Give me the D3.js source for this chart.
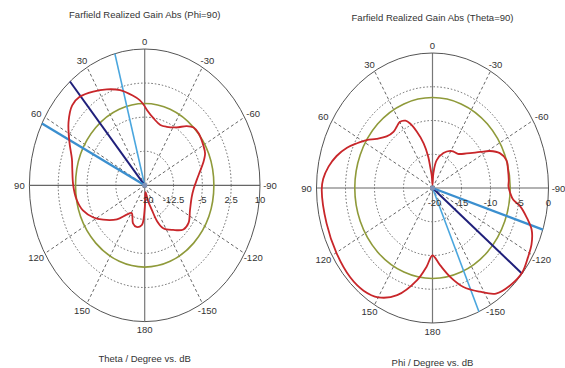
<!DOCTYPE html>
<html>
<head>
<meta charset="utf-8">
<script src="https://cdn.jsdelivr.net/npm/d3@7"></script>
<style>
  html, body { margin: 0; padding: 0; background: #fff; }
  svg { display: block; font-family: "Liberation Sans", Arial, sans-serif; }
</style>
</head>
<body>
<div id="chart"></div>
<script>
// Phi=90 cut: theta (deg) vs realized gain (dB)
const thetaDeg = [-179, -172, -166, -161, -158, -153, -143, -134, -126, -115, -102, -93, -85, -78, -72, -66, -60, -51, -45, -40,
  -33, -24, -17, -9, -2, 1, 4, 9, 17, 25, 33, 41, 47, 55, 64, 73, 79, 90, 100, 109,
  118, 125, 136, 144, 151, 160, 167, 175, 177.5];
const gainTheta = [-15.7, -18.5, -16.5, -14.3, -11.6, -9.4, -7.7, -6.0, -5.9, -7.0, -7.5, -7.2, -6.4, -5.3, -4.0, -2.8, -2.4, -1.9, -2.0, -3.0,
  -4.8, -5.9, -6.1, -5.1, -3.4, -2.2, -1.2, 0.0, 1.9, 3.3, 4.6, 5.8, 5.8, 4.2, 1.8, -0.2, -0.8, -1.4, -2.0, -3.0,
  -4.9, -6.8, -9.6, -12.0, -13.0, -11.1, -10.6, -11.2, -12.3];

// Theta=90 cut: phi (deg) vs realized gain (dB)
const phiDeg = [-180, -173.5, -167, -160, -152, -145, -137, -129, -122, -116, -110, -105, -100, -97, -93, -89, -85, -78, -72, -66,
  -61, -57, -49, -41, -34, -29, -20, -10, -4, 0, 4, 7, 9, 13, 18, 22, 25, 30, 34, 39,
  46, 53, 58, 63, 68, 74, 80, 86, 91, 106, 120, 133, 142, 150, 159, 169, 175];
const gainPhi = [-10.0, -8.5, -6.5, -4.4, -2.6, -0.9, -0.3, -0.1, -0.6, -1.0, -1.8, -3.2, -4.7, -6.0, -6.6, -6.9, -6.8, -6.7, -6.6, -7.3,
  -8.7, -10.2, -12.2, -13.3, -13.5, -13.7, -14.5, -15.8, -17.8, -19.5, -18.2, -17.0, -15.3, -13.2, -11.2, -9.7, -9.0, -8.7, -9.0, -9.3,
  -9.0, -7.9, -6.6, -5.4, -4.1, -2.8, -1.8, -1.1, -0.9, -1.0, -0.85, -0.6, -0.7, -1.3, -3.0, -6.1, -8.3];

const angleTicks = [0, 30, 60, 90, 120, 150, 180, -150, -120, -90, -60, -30];
const ringsTheta = [-20, -12.5, -5, 2.5, 10];
const ringsPhi = [-20, -15, -10, -5, 0];

// -3 dB reference level and beam lines (main lobe, 3 dB edges)
const refLevel = [-2.0, -6.6];
const beamTheta = [15, 40.4, 63];
const beamPhi = [-156.4, -129.4, -108];

const W = 565, H = 368;
const svg = d3.select('#chart').append('svg')
  .attr('width', W).attr('height', H)
  .attr('viewBox', [0, 0, W, H]);

function drawPolar(cfg) {
  const g = svg.append('g');
  const dom = d3.extent(cfg.rings);
  const rX = d3.scaleLinear().domain(dom).range([0, cfg.rx]).clamp(true);
  const rY = d3.scaleLinear().domain(dom).range([0, cfg.ry]).clamp(true);
  const rad = d => d * Math.PI / 180;
  const px = (a, v) => cfg.cx - rX(v) * Math.sin(rad(a));
  const py = (a, v) => cfg.cy - rY(v) * Math.cos(rad(a));

  // dotted rings
  g.selectAll('.ring')
    .data(cfg.rings.slice(1, -1))
    .join('ellipse')
    .attr('cx', cfg.cx).attr('cy', cfg.cy)
    .attr('rx', d => rX(d)).attr('ry', d => rY(d))
    .attr('fill', 'none')
    .attr('stroke', '#555')
    .attr('stroke-width', 0.9)
    .attr('stroke-dasharray', '1.5,2');

  // dashed spokes
  g.selectAll('.spoke')
    .data(angleTicks.filter(a => a % 90 !== 0))
    .join('line')
    .attr('x1', cfg.cx).attr('y1', cfg.cy)
    .attr('x2', a => px(a, dom[1])).attr('y2', a => py(a, dom[1]))
    .attr('stroke', '#555')
    .attr('stroke-width', 0.9)
    .attr('stroke-dasharray', '3,2.5');

  // solid axes
  g.append('line')
    .attr('x1', px(90, dom[1])).attr('y1', cfg.cy)
    .attr('x2', px(-90, dom[1])).attr('y2', cfg.cy)
    .attr('stroke', '#666').attr('stroke-width', 1.2);
  g.append('line')
    .attr('x1', cfg.cx).attr('y1', py(0, dom[1]))
    .attr('x2', cfg.cx).attr('y2', py(180, dom[1]))
    .attr('stroke', '#777').attr('stroke-width', 1.2);

  // outer ellipse
  g.append('ellipse')
    .attr('cx', cfg.cx).attr('cy', cfg.cy)
    .attr('rx', rX(dom[1])).attr('ry', rY(dom[1]))
    .attr('fill', 'none')
    .attr('stroke', '#555')
    .attr('stroke-width', 1);

  // reference level
  g.append('ellipse')
    .attr('cx', cfg.cx).attr('cy', cfg.cy)
    .attr('rx', rX(cfg.ref)).attr('ry', rY(cfg.ref))
    .attr('fill', 'none')
    .attr('stroke', '#8f9a3a')
    .attr('stroke-width', 1.6);

  // beam lines
  const beamStyle = [
    { c: '#4aa6de', w: 1.6 },
    { c: '#1f1f7a', w: 2 },
    { c: '#3b8fcf', w: 2.4 }
  ];
  g.selectAll('.beam')
    .data(cfg.beams)
    .join('line')
    .attr('x1', cfg.cx).attr('y1', cfg.cy)
    .attr('x2', a => px(a, dom[1])).attr('y2', a => py(a, dom[1]))
    .attr('stroke', (a, i) => beamStyle[cfg.beamOrder[i]].c)
    .attr('stroke-width', (a, i) => beamStyle[cfg.beamOrder[i]].w);

  g.append('circle')
    .attr('cx', cfg.cx).attr('cy', cfg.cy).attr('r', 2.5)
    .attr('fill', '#7f93b8');

  // gain pattern
  const line = d3.line()
    .curve(d3.curveCatmullRomClosed.alpha(0.5))
    .x((a, i) => px(a, cfg.values[i]))
    .y((a, i) => py(a, cfg.values[i]));
  g.append('path')
    .datum(cfg.angles)
    .attr('d', line)
    .attr('fill', 'none')
    .attr('stroke', '#c8262a')
    .attr('stroke-width', 1.8)
    .attr('stroke-linejoin', 'round');

  // ring labels
  g.selectAll('.rlab')
    .data(cfg.rings)
    .join('text')
    .attr('x', (d, i) => cfg.cx + rX(d) + (i === 0 ? 2 : 0))
    .attr('y', cfg.cy + 14)
    .attr('text-anchor', 'middle')
    .attr('dominant-baseline', 'central')
    .attr('font-size', 9.5)
    .attr('fill', '#333')
    .text(d => d);

  // angle labels
  g.selectAll('.alab')
    .data(angleTicks)
    .join('text')
    .attr('x', a => cfg.cx - (cfg.rx + 10) * Math.sin(rad(a)))
    .attr('y', a => cfg.cy - (cfg.ry + 8) * Math.cos(rad(a)))
    .attr('text-anchor', 'middle')
    .attr('dominant-baseline', 'central')
    .attr('font-size', 9.5)
    .attr('fill', '#333')
    .text(a => a);

  g.append('text')
    .attr('x', cfg.cx).attr('y', cfg.titleY)
    .attr('text-anchor', 'middle')
    .attr('dominant-baseline', 'central')
    .attr('font-size', 9.5)
    .attr('fill', '#333')
    .text(cfg.title);

  g.append('text')
    .attr('x', cfg.cx).attr('y', cfg.footY)
    .attr('text-anchor', 'middle')
    .attr('dominant-baseline', 'central')
    .attr('font-size', 9.5)
    .attr('fill', '#333')
    .text(cfg.foot);
}

drawPolar({
  cx: 144.7, cy: 185.3, rx: 115.3, ry: 136.3,
  rings: ringsTheta, angles: thetaDeg, values: gainTheta,
  ref: refLevel[0], beams: beamTheta, beamOrder: [0, 1, 2],
  title: 'Farfield Realized Gain Abs (Phi=90)', titleY: 14,
  foot: 'Theta / Degree vs. dB', footY: 358
});

drawPolar({
  cx: 432.5, cy: 188, rx: 116, ry: 135,
  rings: ringsPhi, angles: phiDeg, values: gainPhi,
  ref: refLevel[1], beams: beamPhi, beamOrder: [0, 1, 2],
  title: 'Farfield Realized Gain Abs (Theta=90)', titleY: 17,
  foot: 'Phi / Degree vs. dB', footY: 362
});
</script>
</body>
</html>
